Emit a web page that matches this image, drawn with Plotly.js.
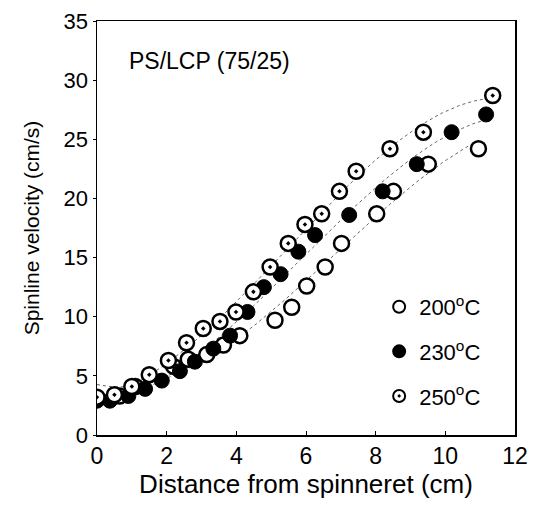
<!DOCTYPE html>
<html>
<head>
<meta charset="utf-8">
<script src="https://cdn.plot.ly/plotly-3.0.1.min.js"></script>
<style>html,body{margin:0;padding:0;background:#fff;}#chart{width:537px;height:506px;}</style>
</head>
<body>
<div id="chart"></div>
<script>
// Data
const x200 = [0.65, 1.1, 2.2, 2.62, 3.15, 3.63, 4.1, 5.11, 5.59, 6.02, 6.55, 7.02, 8.03, 8.51, 9.51, 10.95];
const y200 = [3.3, 4.1, 5.8, 6.4, 6.8, 7.6, 8.4, 9.7, 10.8, 12.6, 14.2, 16.2, 18.7, 20.6, 22.9, 24.2];

const x230 = [0, 0.37, 0.9, 1.38, 1.86, 2.38, 2.81, 3.34, 3.82, 4.32, 4.79, 5.27, 5.78, 6.26, 7.24, 8.2, 9.18, 10.18, 11.17];
const y230 = [2.9, 2.9, 3.3, 3.9, 4.6, 5.4, 6.2, 7.3, 8.4, 10.4, 12.5, 13.6, 15.5, 16.9, 18.6, 20.6, 22.9, 25.6, 27.1];

const x250 = [0, 0.5, 1.0, 1.5, 2.05, 2.57, 3.05, 3.53, 3.99, 4.49, 4.97, 5.49, 5.97, 6.45, 6.96, 7.44, 8.41, 9.37, 11.36];
const y250 = [3.2, 3.4, 4.1, 5.1, 6.3, 7.8, 9.0, 9.6, 10.4, 12.1, 14.2, 16.2, 17.8, 18.7, 20.6, 22.3, 24.2, 25.6, 28.7];

const seriesNames = ['200<sup>o</sup>C', '230<sup>o</sup>C', '250<sup>o</sup>C'];
const fitEnds = [10.9, 11.2, 11.4];

// cubic least-squares fit of each series (trend line, as in the reference)
function polyfit(xs, ys, deg) {
  const n = deg + 1;
  const A = Array.from({length: n}, () => new Array(n + 1).fill(0));
  for (let k = 0; k < xs.length; k++) {
    for (let i = 0; i < n; i++) {
      for (let j = 0; j < n; j++) A[i][j] += Math.pow(xs[k], i + j);
      A[i][n] += ys[k] * Math.pow(xs[k], i);
    }
  }
  for (let i = 0; i < n; i++) {
    let p = i;
    for (let r = i + 1; r < n; r++) if (Math.abs(A[r][i]) > Math.abs(A[p][i])) p = r;
    [A[i], A[p]] = [A[p], A[i]];
    for (let r = 0; r < n; r++) {
      if (r === i) continue;
      const f = A[r][i] / A[i][i];
      for (let c = i; c <= n; c++) A[r][c] -= f * A[i][c];
    }
  }
  return A.map((row, i) => row[n] / row[i]);
}
function fitLine(xs, ys, xEnd) {
  const c = polyfit(xs, ys, 3);
  const fx = [], fy = [];
  for (let i = 0; i <= 100; i++) {
    const x = xEnd * i / 100;
    fx.push(x);
    fy.push(c[0] + c[1] * x + c[2] * x * x + c[3] * x * x * x);
  }
  return {fx, fy};
}

const datasets = [[x200, y200], [x230, y230], [x250, y250]];
const traces = [];
datasets.forEach((d, i) => {
  const f = fitLine(d[0], d[1], fitEnds[i]);
  traces.push({
    x: f.fx, y: f.fy, mode: 'lines', showlegend: false, hoverinfo: 'skip',
    line: {color: '#666', width: 1, dash: 'dot'}
  });
});
const markerStyles = [
  {symbol: 'circle', color: '#fff', size: 15, line: {color: '#000', width: 2.5}},
  {symbol: 'circle', color: '#000', size: 15, line: {color: '#000', width: 1}},
  {symbol: 'circle-dot', color: '#fff', size: 15, line: {color: '#000', width: 2.5}}
];
datasets.forEach((d, i) => {
  traces.push({
    x: d[0], y: d[1], mode: 'markers', name: seriesNames[i], legendgroup: 'g' + i,
    marker: markerStyles[i]
  });
});

const font = 'Liberation Sans, Arial, sans-serif';
const layout = {
  width: 537, height: 506,
  margin: {l: 97, r: 22, t: 21, b: 71},
  paper_bgcolor: '#fff', plot_bgcolor: '#fff',
  font: {family: font, color: '#000', size: 22},
  showlegend: true,
  legend: {
    x: 0.675, y: 0.36, xanchor: 'left', yanchor: 'top',
    bgcolor: 'rgba(0,0,0,0)', font: {size: 22, family: font},
    itemsizing: 'constant', tracegroupgap: 13, traceorder: 'grouped'
  },
  xaxis: {
    range: [0, 12], dtick: 2, tick0: 0, showgrid: false, zeroline: false,
    showline: true, mirror: true, linecolor: '#000', linewidth: 1.5,
    ticks: 'inside', ticklen: 4, tickcolor: '#000',
    tickfont: {size: 23, family: font},
    title: {text: 'Distance from spinneret (cm)', font: {size: 26, family: font}, standoff: 6}
  },
  yaxis: {
    range: [0, 35], dtick: 5, tick0: 0, showgrid: false, zeroline: false,
    showline: true, mirror: true, linecolor: '#000', linewidth: 1.5,
    ticks: 'outside', ticklen: 3, tickcolor: '#000',
    tickfont: {size: 22, family: font},
    title: {text: 'Spinline velocity (cm/s)', font: {size: 21, family: font}, standoff: 18}
  },
  annotations: [{
    text: 'PS/LCP (75/25)', xref: 'x', yref: 'y', x: 0.85, y: 31.6,
    xanchor: 'left', yanchor: 'middle', showarrow: false,
    font: {size: 23, family: font}
  }]
};
Plotly.newPlot('chart', traces, layout, {displayModeBar: false, staticPlot: true});
</script>
</body>
</html>
